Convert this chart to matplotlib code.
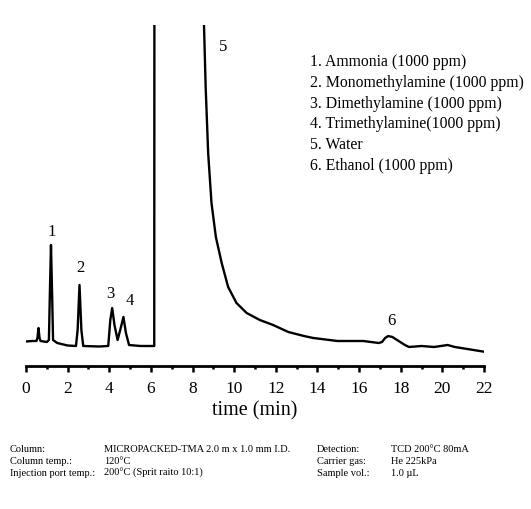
import numpy as np
import matplotlib
matplotlib.use("Agg")
import matplotlib.pyplot as plt
from matplotlib.ticker import MultipleLocator

plt.rcParams["font.family"] = ["Liberation Serif", "DejaVu Serif"]

# chromatogram trace (time in min, detector signal in arbitrary units)
time_min = [0.0, 0.3, 0.5, 0.55, 0.6, 0.65, 0.7, 1.0, 1.1, 1.15, 1.2, 1.25, 1.3, 1.5,
            2.0, 2.4, 2.48, 2.57, 2.66, 2.75, 3.5, 3.95, 4.05, 4.14, 4.25, 4.4, 4.55,
            4.68, 4.8, 4.95, 5.5, 6.0, 6.16, 6.18, 8.45, 8.55, 8.63, 8.75, 8.91, 9.12,
            9.4, 9.71, 10.11, 10.6, 11.23, 11.87, 12.6, 13.35, 13.8, 14.96, 15.9, 16.2,
            16.95, 17.1, 17.25, 17.4, 17.6, 17.9, 18.2, 18.4, 19.0, 19.6, 20.25, 20.6,
            21.2, 22.0]
signal = [4.5, 5, 5, 8, 18, 8, 5, 4, 6, 56, 101, 56, 6, 3,
          0.5, 0, 16, 61, 16, 0, -0.5, 0, 26, 38, 21, 6, 18,
          29, 13, 1, 0, 0, 0, 900, 900, 321, 259, 193, 143, 109,
          83, 59, 43, 33, 26, 21, 14, 10, 8, 5, 5, 5,
          3, 4, 8, 10, 9, 5, 1, -1, 0, -1, 1, -1,
          -3, -5.7]

peak_labels = ["1", "2", "3", "4", "5", "6"]
peak_label_t = [1.24, 2.6, 4.04, 4.97, 9.47, 17.53]
peak_label_y = [114, 78, 52, 45, 299, 25]

compounds = ["1. Ammonia (1000 ppm)", "2. Monomethylamine (1000 ppm)",
             "3. Dimethylamine (1000 ppm)", "4. Trimethylamine(1000 ppm)",
             "5. Water", "6. Ethanol (1000 ppm)"]

cond_left = [("Column:", "MICROPACKED-TMA 2.0 m x 1.0 mm I.D."),
             ("Column temp.:", "120\u00b0C"),
             ("Injection port temp.:", "200\u00b0C (Sprit raito 10:1)")]
cond_right = [("Detection:", "TCD 200\u00b0C 80mA"),
              ("Carrier gas:", "He 225kPa"),
              ("Sample vol.:", "1.0 \u00b5L")]

W, H = 531, 509
fig = plt.figure(figsize=(W / 100, H / 100), dpi=100)


def fx(px):
    return px / W


def fy(py):
    return 1 - py / H


ax = fig.add_axes([fx(26), fy(366), (484 - 26) / W, (366 - 25) / H])
ax.plot(time_min, signal, color="black", lw=1.7, solid_joinstyle="round")
ax.set_xlim(0, 22)
ax.set_ylim(-20, 321)

for s in ["left", "top", "right"]:
    ax.spines[s].set_visible(False)
ax.spines["bottom"].set_linewidth(2.0)
ax.set_yticks([])
ax.xaxis.set_major_locator(MultipleLocator(2))
ax.xaxis.set_minor_locator(MultipleLocator(1))
ax.tick_params(axis="x", which="major", direction="out", length=4, width=1.8,
               labelsize=12.5, pad=7)
ax.tick_params(axis="x", which="minor", direction="out", length=2.5, width=1.8)
ax.set_xlabel("time (min)", fontsize=14.5, labelpad=3)

for lab, t, y in zip(peak_labels, peak_label_t, peak_label_y):
    ax.text(t, y, lab, fontsize=12, ha="center", va="center")

for i, txt in enumerate(compounds):
    fig.text(fx(310), fy(62 + i * 20.8), txt, fontsize=11.3, ha="left", va="center")

fs = 7.5
for i, (k, v) in enumerate(cond_left):
    fig.text(fx(10), fy(450 + i * 11.5), k, fontsize=fs, ha="left", va="center")
    fig.text(fx(104), fy(450 + i * 11.5), v, fontsize=fs, ha="left", va="center")
for i, (k, v) in enumerate(cond_right):
    fig.text(fx(317), fy(450 + i * 11.5), k, fontsize=fs, ha="left", va="center")
    fig.text(fx(391), fy(450 + i * 11.5), v, fontsize=fs, ha="left", va="center")

fig.savefig("out.png", dpi=100)
